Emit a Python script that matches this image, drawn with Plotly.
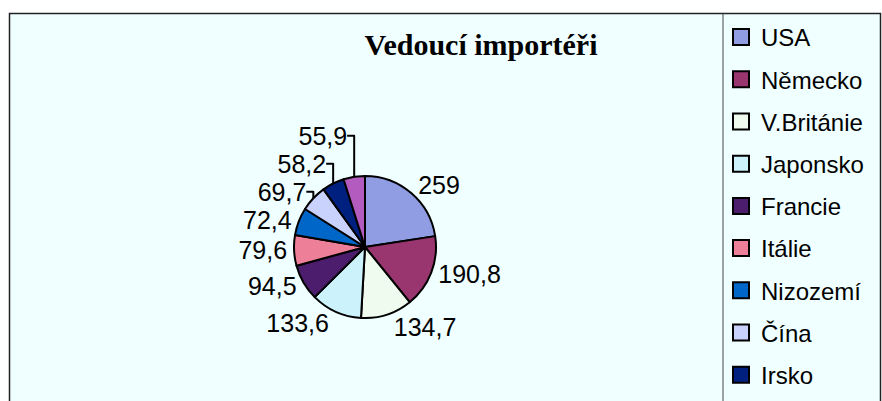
import plotly.graph_objects as go

# ---- data ----
countries = ["USA", "Německo", "V.Británie", "Japonsko", "Francie", "Itálie",
             "Nizozemí", "Čína", "Irsko", "Kanada"]
values = [259, 190.8, 134.7, 133.6, 94.5, 79.6, 72.4, 69.7, 58.2, 55.9]
colors = ["#909DE3", "#993670", "#EEFBEE", "#CCF3FC", "#4C1D6C", "#EE7F99",
          "#0066C8", "#C8D2FC", "#002080", "#B35BBE"]
legend_count = 9  # the last entry is cut off in the original legend
title_text = "Vedoucí importéři"

W, H = 882, 401
labels_txt = [f"{v:g}".replace(".", ",") for v in values]

fig = go.Figure()

fig.add_trace(go.Pie(
    labels=countries,
    values=values,
    text=labels_txt,
    textinfo="text",
    textposition="outside",
    sort=False,
    direction="clockwise",
    rotation=0,
    marker=dict(colors=colors, line=dict(color="black", width=2)),
    outsidetextfont=dict(family="Liberation Sans, Arial", size=25, color="black"),
    domain=dict(x=[294 / W, 436 / W], y=[1 - 318 / H, 1 - 176 / H]),
    showlegend=False,
    hoverinfo="label+value",
))

for i in range(legend_count):
    fig.add_trace(go.Scatter(
        x=[None], y=[None], mode="markers", name=countries[i],
        legendgroup=f"g{i}",
        marker=dict(symbol="square", size=16, color=colors[i],
                    line=dict(color="black", width=2)),
    ))

fig.update_layout(
    width=W, height=H,
    margin=dict(l=0, r=0, t=0, b=0),
    paper_bgcolor="white",
    plot_bgcolor="rgba(0,0,0,0)",
    xaxis=dict(visible=False),
    yaxis=dict(visible=False),
    title=dict(text=f"<b>{title_text}</b>", x=481 / W, xanchor="center",
               y=1 - 44 / H, yanchor="middle",
               font=dict(family="Liberation Serif, Times New Roman", size=30, color="black")),
    legend=dict(x=721 / W, xanchor="left", y=1 - 15 / H, yanchor="top",
                bgcolor="rgba(0,0,0,0)", borderwidth=0,
                tracegroupgap=8,
                font=dict(family="Liberation Sans, Arial", size=24, color="black")),
    separators=", ",
    shapes=[
        dict(type="rect", xref="paper", yref="paper", layer="below",
             x0=9.5 / W, x1=880.5 / W, y0=-0.05, y1=1 - 13.5 / H,
             fillcolor="#F0FFFF", line=dict(color="#222222", width=1.5)),
        dict(type="line", xref="paper", yref="paper", layer="below",
             x0=723 / W, x1=723 / W, y0=-0.05, y1=1 - 13.5 / H,
             line=dict(color="#444444", width=1)),
    ],
)

fig.write_html("out.html", config={"displayModeBar": False},
               post_script="document.body.style.margin='0';document.body.style.padding='0';")
